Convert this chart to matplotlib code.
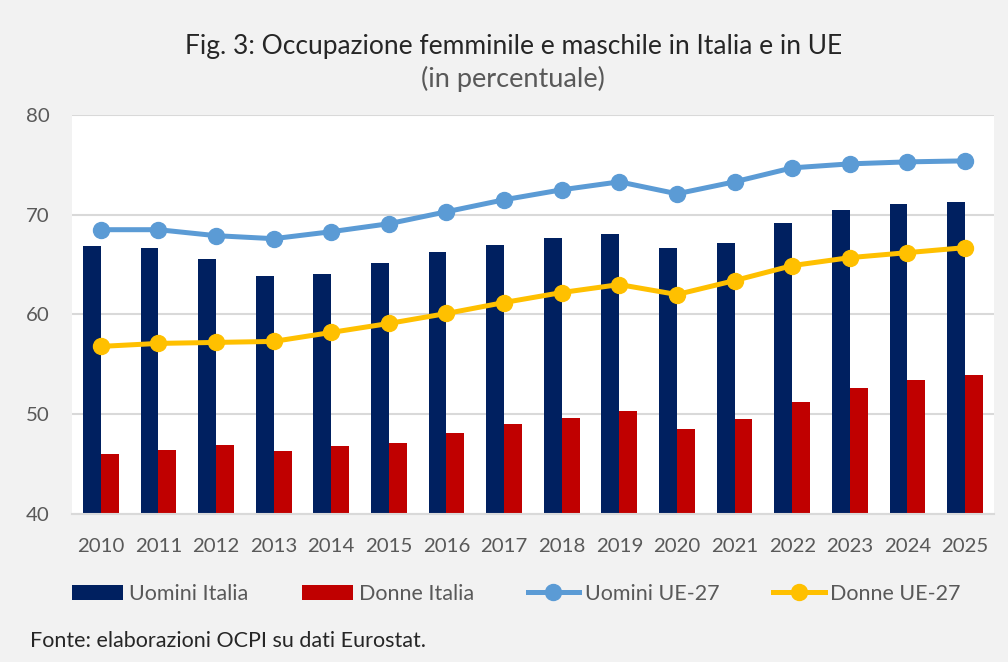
import numpy as np
import matplotlib.pyplot as plt

anni = ['2010', '2011', '2012', '2013', '2014', '2015', '2016', '2017',
        '2018', '2019', '2020', '2021', '2022', '2023', '2024', '2025']
uomini_italia = [66.9, 66.7, 65.6, 63.9, 64.1, 65.2, 66.3, 67.0,
                 67.7, 68.1, 66.7, 67.2, 69.2, 70.5, 71.1, 71.3]
donne_italia = [46.0, 46.4, 46.9, 46.3, 46.8, 47.1, 48.1, 49.0,
                49.6, 50.3, 48.5, 49.5, 51.2, 52.6, 53.4, 53.9]
uomini_ue = [68.5, 68.5, 67.9, 67.6, 68.3, 69.1, 70.3, 71.5,
             72.5, 73.3, 72.1, 73.3, 74.7, 75.1, 75.3, 75.4]
donne_ue = [56.8, 57.1, 57.2, 57.3, 58.2, 59.1, 60.1, 61.2,
            62.2, 63.0, 62.0, 63.4, 64.9, 65.7, 66.2, 66.7]

plt.rcParams['font.family'] = ['Lato', 'DejaVu Sans']
grigio = '#595959'

fig = plt.figure(figsize=(10.08, 6.62), dpi=100, facecolor='#F2F2F2')
ax = fig.add_axes([0.0714, 0.2236, 0.9146, 0.6027])
ax.set_facecolor('white')

x = np.arange(len(anni))
w = 0.31
b1 = ax.bar(x - w / 2, uomini_italia, w, color='#002060', label='Uomini Italia', zorder=2)
b2 = ax.bar(x + w / 2, donne_italia, w, color='#C00000', label='Donne Italia', zorder=2)
l1, = ax.plot(x, uomini_ue, color='#5B9BD5', lw=3.6, marker='o', ms=11.5,
              label='Uomini UE-27', zorder=3)
l2, = ax.plot(x, donne_ue, color='#FFC000', lw=3.6, marker='o', ms=11.5,
              label='Donne UE-27', zorder=3)

ax.set_xlim(-0.5, len(anni) - 0.5)
ax.set_ylim(40, 80)
ax.set_yticks([40, 50, 60, 70, 80])
ax.set_xticks(x)
ax.set_xticklabels(anni)
ax.grid(axis='y', color='#D9D9D9', lw=1.5, zorder=0)
ax.set_axisbelow(True)
for s in ['top', 'right', 'left']:
    ax.spines[s].set_visible(False)
ax.spines['bottom'].set_color('#D9D9D9')
ax.spines['bottom'].set_linewidth(1.5)
ax.tick_params(length=0, labelsize=14.7, colors=grigio)
ax.tick_params(axis='x', pad=17)
ax.tick_params(axis='y', pad=16)

fig.text(0.509, 0.93, 'Fig. 3: Occupazione femminile e maschile in Italia e in UE',
         ha='center', va='center', fontsize=19, color='#262626')
fig.text(0.509, 0.88, '(in percentuale)', ha='center', va='center',
         fontsize=19.5, color=grigio)

fig.legend([b1, b2, l1, l2], ['Uomini Italia', 'Donne Italia', 'Uomini UE-27', 'Donne UE-27'],
           loc='center', bbox_to_anchor=(0.512, 0.103), ncol=4, frameon=False,
           fontsize=15.5, labelcolor=grigio, handlelength=2.4, handletextpad=0.25,
           columnspacing=2.5)

fig.text(0.03, 0.032, 'Fonte: elaborazioni OCPI su dati Eurostat.', ha='left',
         va='center', fontsize=15.5, color='#262626')

fig.savefig('out.png', dpi=100, facecolor=fig.get_facecolor())
